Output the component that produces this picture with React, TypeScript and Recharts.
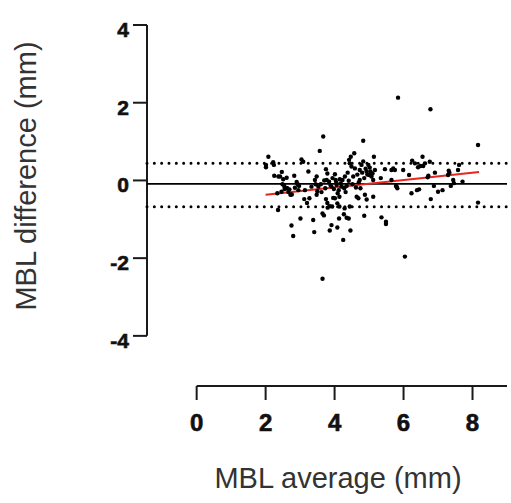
import React from 'react';
import { ScatterChart, Scatter, XAxis, YAxis, ReferenceLine } from 'recharts';

// MBL average (mm) of each pair
const avg = [
  2.01, 2.01, 2.08, 2.22, 2.24, 2.25, 2.34, 2.36, 2.37, 2.42, 2.46, 2.47, 2.49, 2.51, 2.54, 2.55, 2.6, 2.61, 2.63, 2.66,
  2.69, 2.72, 2.75, 2.76, 2.8, 2.83, 2.85, 2.9, 2.93, 2.95, 2.97, 3.01, 3.04, 3.09, 3.12, 3.14, 3.2, 3.24, 3.27, 3.33,
  3.38, 3.41, 3.43, 3.45, 3.48, 3.48, 3.5, 3.53, 3.57, 3.6, 3.62, 3.65, 3.65, 3.67, 3.69, 3.7, 3.73, 3.75, 3.75, 3.77,
  3.79, 3.79, 3.8, 3.84, 3.86, 3.86, 3.88, 3.91, 3.91, 3.93, 3.94, 3.96, 3.98, 4.01, 4.01, 4.03, 4.05, 4.06, 4.08, 4.08,
  4.09, 4.12, 4.13, 4.14, 4.14, 4.15, 4.18, 4.2, 4.23, 4.25, 4.27, 4.28, 4.29, 4.3, 4.32, 4.35, 4.35, 4.38, 4.41, 4.41,
  4.42, 4.44, 4.44, 4.46, 4.47, 4.49, 4.52, 4.54, 4.57, 4.59, 4.62, 4.64, 4.66, 4.69, 4.7, 4.73, 4.73, 4.75, 4.78, 4.8,
  4.83, 4.83, 4.86, 4.86, 4.88, 4.9, 4.93, 4.93, 4.95, 4.98, 5.0, 5.02, 5.04, 5.07, 5.1, 5.12, 5.12, 5.14, 5.17, 5.34,
  5.36, 5.46, 5.49, 5.49, 5.65, 5.65, 5.7, 5.75, 5.78, 5.8, 5.82, 5.84, 5.99, 6.04, 6.16, 6.23, 6.25, 6.33, 6.39, 6.42,
  6.45, 6.49, 6.55, 6.57, 6.62, 6.7, 6.72, 6.76, 6.78, 6.79, 6.88, 6.91, 7.0, 7.13, 7.29, 7.31, 7.33, 7.37, 7.44, 7.46,
  7.58, 7.61, 7.71, 8.16, 8.16,
];

// MBL difference (mm) of each pair
const diff = [
  0.4, 0.34, 0.61, 0.47, 0.4, 0.12, -0.33, -0.76, 0.1, 0.1, -0.29, 0.22, -0.1, 0.03, -0.14, -0.22, -0.2, 0.07, -0.2, -0.3,
  -0.23, -0.37, -1.16, -0.36, -1.43, 0.12, -0.19, -0.04, -0.1, -0.25, -0.14, -0.98, 0.54, 0.48, -0.48, -0.25, -0.58, 0.23, -0.46, -0.16,
  -1.02, -1.33, 0.01, -0.1, 0.1, -0.37, -0.28, -0.16, 0.76, -0.1, -0.3, -2.53, -0.85, 1.13, -0.9, 0.0, -0.2, 0.29, -0.48, 0.01,
  0.18, -0.58, -0.7, -0.03, -1.29, -0.66, -0.12, -1.15, -0.16, -0.67, 0.06, -0.45, -0.22, 0.16, -0.46, 0.01, -0.05, -0.12, -1.21, -0.59,
  -0.33, -0.25, -0.98, -0.42, -0.67, 0.03, -0.08, -0.16, 0.01, -1.53, -0.87, -0.2, -0.72, 0.1, -0.3, -0.14, -0.96, 0.2, -0.01, -0.98,
  0.53, 0.44, -0.67, -1.29, 0.61, 0.36, -0.1, 0.1, 0.7, 0.31, -0.18, -0.42, 0.15, -0.46, -0.05, 0.27, 0.01, -0.2, 0.4, 0.2,
  1.02, 0.49, 0.06, -0.91, -0.37, 0.3, 0.23, -0.49, 0.15, 0.4, 0.14, 0.33, 0.23, 0.1, 0.18, 0.01, -0.42, 0.61, 0.27, 0.06,
  -0.95, 0.29, -1.06, -1.12, 0.27, 0.01, 0.31, 0.27, -0.14, -0.16, -0.2, 2.13, 0.27, -1.96, 0.14, -0.33, 0.51, 0.44, -0.25, 0.34,
  -0.23, 0.37, 0.61, 0.37, 0.44, 0.08, 0.12, 0.48, 1.83, -0.48, -0.14, 0.2, -0.29, -0.25, 0.14, 0.25, 0.2, -0.14, 0.01, -0.07,
  0.27, 0.4, -0.03, 0.91, -0.57,
];

const xTicks = [0, 2, 4, 6, 8];
const yTicks = [-4, -2, 0, 2, 4];

const meanDiff = -0.09;
const upperLoA = 0.44;
const lowerLoA = -0.675;

// regression line end points
const regX = [2.0, 8.19];
const regY = [-0.37, 0.22];

const xAxisRange = [0, 9];
const yAxisRange = [-4, 4];

const X_TITLE = 'MBL average (mm)';
const Y_TITLE = 'MBL difference (mm)';

const data = avg.map((x, i) => ({ x, y: diff[i] }));

const XDOM: [number, number] = [-1.44, 9];
const YDOM: [number, number] = [-5.29, 4];

const FONT = '"Liberation Sans", Arial, Helvetica, sans-serif';
const AXIS_COLOR = '#1a1a1a';

function XTick(props: any) {
  const { x, y, payload } = props;
  return (
    <g>
      <line x1={x} x2={x} y1={y} y2={y + 14} stroke={AXIS_COLOR} strokeWidth={2} />
      <text
        x={x}
        y={y + 45}
        textAnchor="middle"
        fill="#111"
        stroke="#111"
        strokeWidth={0.6}
        style={{ fontSize: 24, fontWeight: 700, fontFamily: FONT }}
      >
        {payload.value}
      </text>
    </g>
  );
}

function YTick(props: any) {
  const { x, y, payload } = props;
  return (
    <g>
      <line x1={x - 14} x2={x} y1={y} y2={y} stroke={AXIS_COLOR} strokeWidth={2} />
      <text
        x={x - 18}
        y={y + 12}
        textAnchor="end"
        fill="#111"
        stroke="#111"
        strokeWidth={0.6}
        style={{ fontSize: 21, fontWeight: 700, fontFamily: FONT }}
      >
        {payload.value}
      </text>
    </g>
  );
}

const renderXTitle = () => (
  <text x={338} y={488} textAnchor="middle" fill="#333" style={{ fontSize: 29, fontFamily: FONT }}>
    {X_TITLE}
  </text>
);

const renderYTitle = () => (
  <text
    x={36}
    y={176}
    transform="rotate(-90 36 176)"
    textAnchor="middle"
    fill="#333"
    style={{ fontSize: 29, fontFamily: FONT }}
  >
    {Y_TITLE}
  </text>
);

const Dot = (p: any) => <circle cx={p.cx} cy={p.cy} r={2.2} fill="#000" />;

export default function App() {
  return (
    <div style={{ position: 'absolute', left: 0, top: 0, width: 511, height: 503, background: '#fff' }}>
      <ScatterChart width={511} height={503} margin={{ top: 25, right: 4, left: 0, bottom: 0 }}>
        <XAxis
          type="number"
          dataKey="x"
          domain={XDOM}
          allowDataOverflow
          ticks={xTicks}
          axisLine={false}
          tickLine={false}
          tickSize={0}
          tickMargin={0}
          height={117}
          tick={<XTick />}
          interval={0}
          label={renderXTitle}
        />
        <YAxis
          type="number"
          dataKey="y"
          domain={YDOM}
          allowDataOverflow
          ticks={yTicks}
          axisLine={false}
          tickLine={false}
          tickSize={0}
          tickMargin={0}
          width={147}
          tick={<YTick />}
          interval={0}
          label={renderYTitle}
        />
        <ReferenceLine
          segment={[{ x: XDOM[0], y: yAxisRange[0] }, { x: XDOM[0], y: yAxisRange[1] }]}
          stroke={AXIS_COLOR}
          strokeWidth={2}
          ifOverflow="visible"
        />
        <ReferenceLine
          segment={[{ x: xAxisRange[0], y: YDOM[0] }, { x: xAxisRange[1], y: YDOM[0] }]}
          stroke={AXIS_COLOR}
          strokeWidth={2}
          ifOverflow="visible"
        />
        <ReferenceLine y={upperLoA} stroke="#000" strokeWidth={3} strokeDasharray="0 7.33" strokeLinecap="round" />
        <ReferenceLine y={lowerLoA} stroke="#000" strokeWidth={3} strokeDasharray="0 7.33" strokeLinecap="round" />
        <ReferenceLine y={meanDiff} stroke="#000" strokeWidth={1.8} />
        <Scatter data={data} shape={Dot} isAnimationActive={false} />
        <ReferenceLine
          segment={[{ x: regX[0], y: regY[0] }, { x: regX[1], y: regY[1] }]}
          stroke="#e8261b"
          strokeWidth={2}
        />
      </ScatterChart>
    </div>
  );
}
